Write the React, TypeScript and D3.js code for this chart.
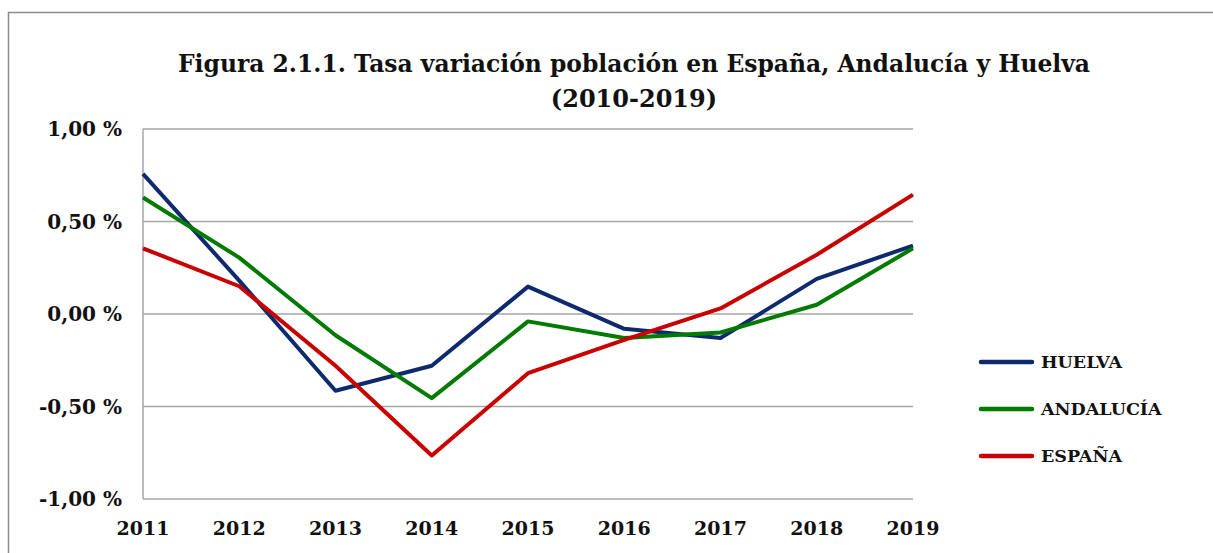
import React, { useRef, useEffect } from "react";
import * as d3 from "d3";

// years on the x axis
const years = ["2011", "2012", "2013", "2014", "2015", "2016", "2017", "2018", "2019"];

// tasa de variación (%)
const huelva = [0.757, 0.18, -0.415, -0.28, 0.148, -0.08, -0.13, 0.19, 0.37];
const andalucia = [0.63, 0.305, -0.115, -0.455, -0.04, -0.13, -0.1, 0.05, 0.355];
const espana = [0.355, 0.15, -0.28, -0.765, -0.32, -0.14, 0.03, 0.32, 0.645];

const yTicks = [1, 0.5, 0, -0.5, -1];

const seriesNames = ["HUELVA", "ANDALUCÍA", "ESPAÑA"];
const seriesColors = ["#0E2A6E", "#007A00", "#C80000"];

const App = () => {
  const container = useRef(null);

  const width = 1213;
  const height = 553;

  useEffect(() => {
    const svg = d3.select(container.current);
    svg.selectAll("*").remove();

    const font = "'DejaVu Serif', serif";

    // outer frame
    svg
      .append("rect")
      .attr("x", 8.5)
      .attr("y", 12.5)
      .attr("width", 1220)
      .attr("height", 560)
      .attr("fill", "white")
      .attr("stroke", "#8c8c8c")
      .attr("stroke-width", 1.5);

    const xScale = d3.scalePoint().domain(years).range([143, 913]);
    const yScale = d3.scaleLinear().domain([-1, 1]).range([499, 129]);

    // gridlines
    svg
      .append("g")
      .selectAll("line")
      .data(yTicks)
      .enter()
      .append("line")
      .attr("x1", 143)
      .attr("x2", 913)
      .attr("y1", (d) => yScale(d))
      .attr("y2", (d) => yScale(d))
      .attr("stroke", "#a6a6a6")
      .attr("stroke-width", 1.5);

    // vertical axis line
    svg
      .append("line")
      .attr("x1", 143)
      .attr("x2", 143)
      .attr("y1", yScale(1))
      .attr("y2", yScale(-1))
      .attr("stroke", "#a6a6a6")
      .attr("stroke-width", 1.5);

    // y labels
    svg
      .append("g")
      .selectAll("text")
      .data(yTicks)
      .enter()
      .append("text")
      .attr("x", 122)
      .attr("y", (d) => yScale(d) + 7)
      .attr("text-anchor", "end")
      .style("font-family", font)
      .style("font-weight", "bold")
      .style("font-size", "20px")
      .style("fill", "#111")
      .text((d) => d3.format(".2f")(d).replace(".", ",").replace("−", "-") + " %");

    // x labels
    svg
      .append("g")
      .selectAll("text")
      .data(years)
      .enter()
      .append("text")
      .attr("x", (d) => xScale(d))
      .attr("y", 535)
      .attr("text-anchor", "middle")
      .style("font-family", font)
      .style("font-weight", "bold")
      .style("font-size", "19px")
      .style("fill", "#111")
      .text((d) => d);

    // lines
    const allSeries = [huelva, andalucia, espana];
    const line = d3
      .line()
      .x((d, i) => xScale(years[i]))
      .y((d) => yScale(d));

    svg
      .append("g")
      .selectAll("path")
      .data(allSeries)
      .enter()
      .append("path")
      .attr("d", (d) => line(d))
      .attr("fill", "none")
      .attr("stroke", (d, i) => seriesColors[i])
      .attr("stroke-width", 4)
      .attr("stroke-linejoin", "round");

    // legend
    const legend = svg.append("g");
    legend
      .selectAll("line")
      .data(seriesNames)
      .enter()
      .append("line")
      .attr("x1", 981)
      .attr("x2", 1032)
      .attr("y1", (d, i) => 362 + i * 47)
      .attr("y2", (d, i) => 362 + i * 47)
      .attr("stroke", (d, i) => seriesColors[i])
      .attr("stroke-width", 4.5)
      .attr("stroke-linecap", "round");

    legend
      .selectAll("text")
      .data(seriesNames)
      .enter()
      .append("text")
      .attr("x", 1041)
      .attr("y", (d, i) => 368 + i * 47)
      .style("font-family", font)
      .style("font-weight", "bold")
      .style("font-size", "17.5px")
      .style("fill", "#111")
      .text((d) => d);

    // title
    const title = svg
      .append("text")
      .attr("text-anchor", "middle")
      .style("font-family", font)
      .style("font-weight", "bold")
      .style("font-size", "25px")
      .style("fill", "#111");
    title
      .append("tspan")
      .attr("x", 634)
      .attr("y", 72)
      .attr("textLength", 912)
      .attr("lengthAdjust", "spacingAndGlyphs")
      .text("Figura 2.1.1. Tasa variación población en España, Andalucía y Huelva");
    title
      .append("tspan")
      .attr("x", 634)
      .attr("y", 107)
      .style("font-size", "24px")
      .text("(2010-2019)");
  }, []);

  return (
    <svg
      ref={container}
      width={width}
      height={height}
      style={{ position: "absolute", left: 0, top: 0, display: "block" }}
    />
  );
};

export default App;
